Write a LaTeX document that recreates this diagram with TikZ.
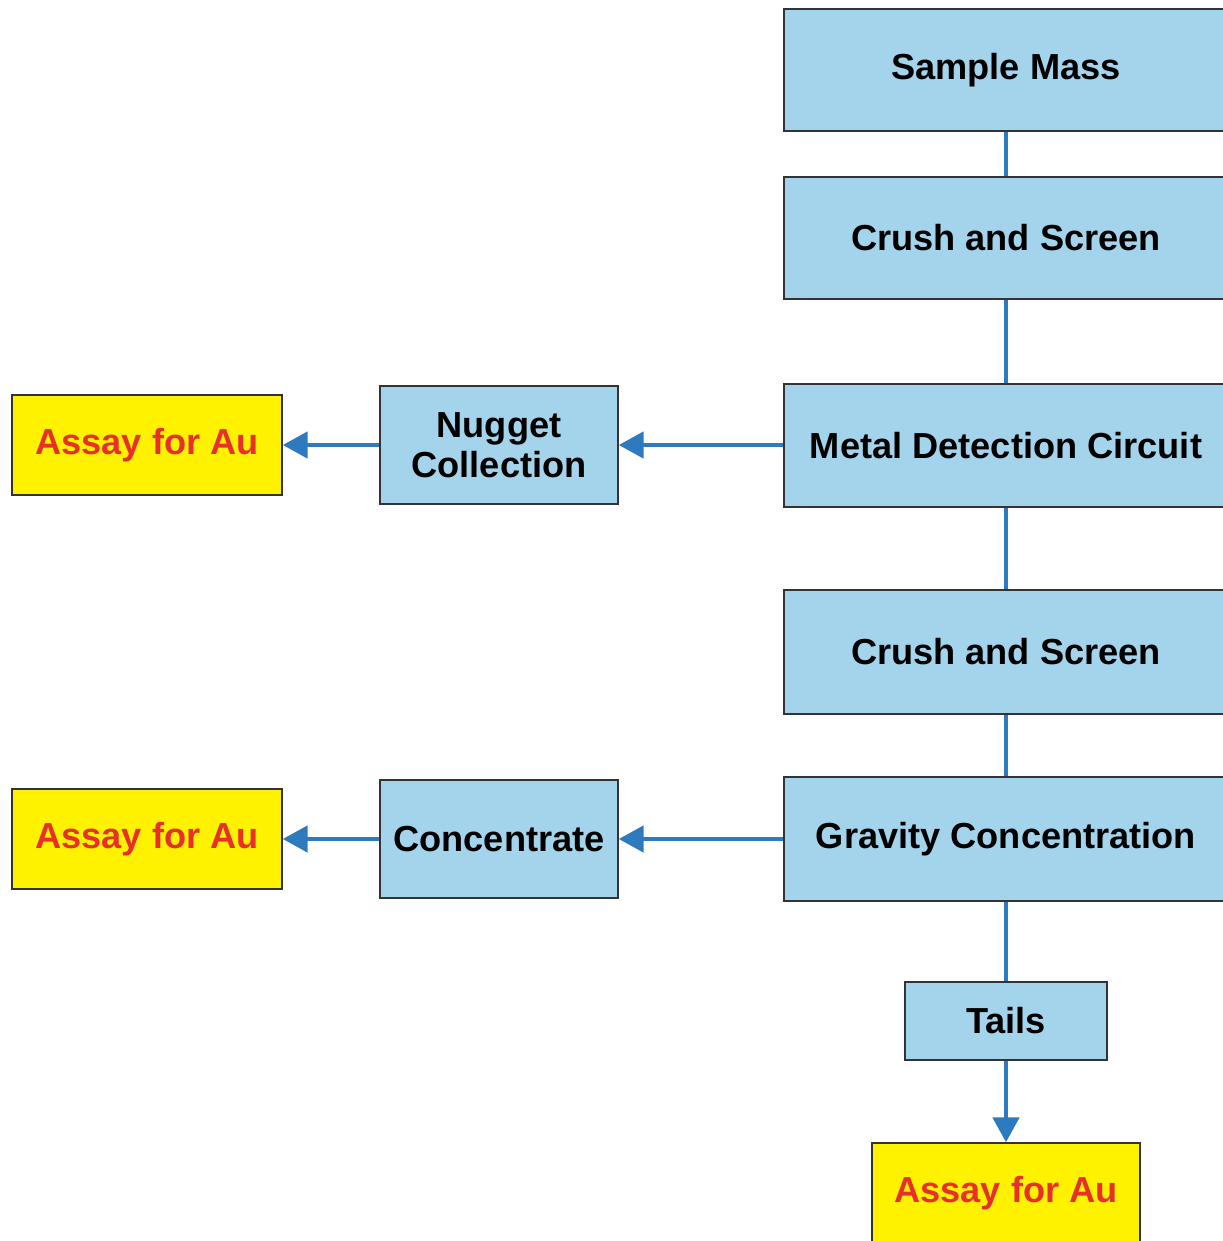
\documentclass[tikz,border=0pt]{standalone}
\usepackage{fontspec}
\setmainfont{Liberation Sans}
\usetikzlibrary{arrows.meta}

\definecolor{boxblue}{RGB}{163,212,236}
\definecolor{assayyellow}{RGB}{255,242,0}
\definecolor{assayred}{RGB}{232,48,42}
\definecolor{flowblue}{RGB}{46,122,190}

\begin{document}
\begin{tikzpicture}[
    step box/.style={draw=black!80,line width=0.8pt,fill=boxblue,
        font=\bfseries\fontsize{20.6}{23}\selectfont,align=center,
        inner sep=0pt,minimum width=8.88cm,minimum height=2.44cm},
    side box/.style={step box,minimum width=4.76cm,minimum height=2.36cm},
    assay box/.style={step box,fill=assayyellow,text=assayred,
        minimum width=5.4cm,minimum height=2cm},
    flow/.style={flowblue,line width=2.8pt},
    flow arrow/.style={flow,-{Triangle[length=0.5cm,width=0.52cm]}}
]
    \useasboundingbox (0,0) rectangle (24.44,-24.82);
    \fill[white] (0,0) rectangle (24.44,-24.82);

    % main line
    \node[step box] (mass) at (20.12,-1.4) {Sample Mass};
    \node[step box] (crushA) at (20.12,-4.76) {Crush and Screen};
    \node[step box,minimum height=2.46cm] (metal) at (20.12,-8.91) {Metal Detection Circuit};
    \node[step box,minimum height=2.48cm] (crushB) at (20.12,-13.04) {Crush and Screen};
    \node[step box,minimum height=2.48cm] (gravity) at (20.12,-16.78) {Gravity Concentration};
    \node[step box,minimum width=4.04cm,minimum height=1.56cm] (tails) at (20.12,-20.42) {Tails};
    \node[assay box,minimum width=5.36cm] (assayC) at (20.12,-23.86) {Assay for Au};

    % side branches
    \node[side box] (nugget) at (9.98,-8.9) {Nugget\\Collection};
    \node[assay box] (assayA) at (2.94,-8.9) {Assay for Au};
    \node[side box] (conc) at (9.98,-16.78) {Concentrate};
    \node[assay box] (assayB) at (2.94,-16.78) {Assay for Au};

    \draw[flow] (mass) -- (crushA);
    \draw[flow] (crushA) -- (metal);
    \draw[flow] (metal) -- (crushB);
    \draw[flow] (crushB) -- (gravity);
    \draw[flow] (gravity) -- (tails);
    \draw[flow arrow] (tails) -- (assayC);
    \draw[flow arrow] (metal.west |- nugget) -- (nugget);
    \draw[flow arrow] (nugget) -- (assayA);
    \draw[flow arrow] (gravity.west |- conc) -- (conc);
    \draw[flow arrow] (conc) -- (assayB);
\end{tikzpicture}
\end{document}
